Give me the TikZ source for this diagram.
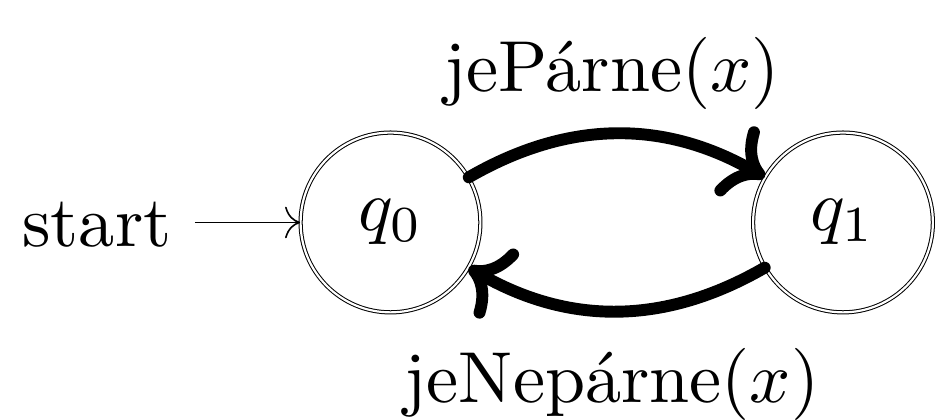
\documentclass[tikz,border=0pt]{standalone}
\usetikzlibrary{arrows.meta}
\begin{document}
\begin{tikzpicture}[x=0.1385pt,y=-0.1385pt,
  stat/.style={circle,draw,double,double distance=0.3pt,line width=0.14pt,minimum size=24.9pt,inner sep=0pt},
  trans/.style={line width=1.65pt,line cap=round,->},
  initarrow/.style={line width=0.22pt,->},
  lbl/.style={inner sep=0pt,anchor=base}]
\useasboundingbox (0,0) rectangle (940,420);
\node[stat] (q0) at (390.5,222.5) {$q_0$};
\node[stat] (q1) at (843,222.5) {$q_1$};
\node[lbl,anchor=base west] (s) at (21,247) {start};
\coordinate (sa) at (195,222.5);
\draw[initarrow] (sa) -- (q0);
\draw[trans] (q0) to[bend left=30] (q1);
\draw[trans] (q1) to[bend left=30] (q0);
\node[lbl] (l1) at (612,92) {jePárne($x$)};
\node[lbl] (l2) at (612,403) {jeNepárne($x$)};
\end{tikzpicture}
\end{document}
